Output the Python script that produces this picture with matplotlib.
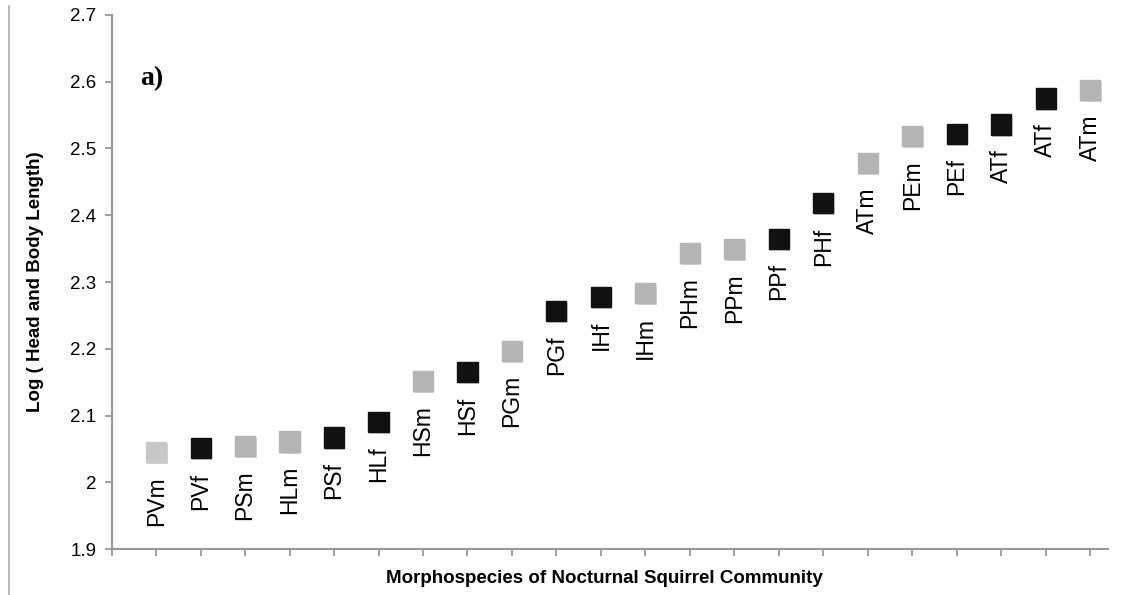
import matplotlib
matplotlib.use("Agg")
import matplotlib.pyplot as plt
import matplotlib.patheffects as pe
from matplotlib.lines import Line2D

# Données
labels = ["PVm", "PVf", "PSm", "HLm", "PSf", "HLf", "HSm", "HSf", "PGm", "PGf",
          "IHf", "IHm", "PHm", "PPm", "PPf", "PHf", "ATm", "PEm", "PEf", "ATf",
          "ATf", "ATm"]
values = [2.045, 2.051, 2.054, 2.061, 2.067, 2.090, 2.152, 2.165, 2.197, 2.257,
          2.278, 2.284, 2.343, 2.349, 2.365, 2.418, 2.478, 2.519, 2.522, 2.536,
          2.575, 2.588]
yticks = [1.9, 2, 2.1, 2.2, 2.3, 2.4, 2.5, 2.6, 2.7]

sex_colors = {"m": "#b4b4b4", "f": "#111111"}

plt.rcParams['font.family'] = ['Liberation Sans', 'DejaVu Sans']

fig = plt.figure(figsize=(11.29, 5.95), dpi=100)
ax = fig.add_axes([0.0989, 0.0773, 0.8824, 0.8975])

x = list(range(1, len(values) + 1))
shadow = [pe.SimplePatchShadow(offset=(1, -1.5), shadow_rgbFace="#888888", alpha=0.35),
          pe.Normal()]
for xi, v, lab in zip(x, values, labels):
    c = sex_colors[lab[-1]]
    if xi == 1:
        c = "#c8c8c8"
    ax.plot([xi], [v], marker="s", markersize=14.5, color=c, linestyle="none",
            path_effects=shadow, zorder=3)
    ax.annotate(lab, (xi, v), xytext=(0, -17.5), textcoords="offset points",
                rotation=90, ha="center", va="top", fontsize=16.5, color="black")

ax.set_xlim(0, 22.4)
ax.set_ylim(1.9, 2.7)
ax.set_xticks(range(0, 23))
ax.set_xticklabels([])
ax.set_yticks(yticks)
ax.set_yticklabels([f"{t:g}" for t in yticks], fontsize=13.5)

for s in ["top", "right"]:
    ax.spines[s].set_visible(False)
for s in ["left", "bottom"]:
    ax.spines[s].set_color("#999999")
    ax.spines[s].set_linewidth(1.5)
ax.tick_params(axis="both", direction="out", length=5, width=1.3, color="#999999")
ax.tick_params(axis="y", pad=6)

ax.set_ylabel("Log ( Head and Body Length)", fontsize=13.5, fontweight="bold")
ax.yaxis.set_label_coords(-0.068, 0.5)
ax.set_xlabel("Morphospecies of Nocturnal Squirrel Community", fontsize=13.5,
              fontweight="bold")
ax.xaxis.set_label_coords(0.495, -0.04)

ax.text(0.65, 2.605, "a)", fontsize=20, fontweight="bold", family="Liberation Serif",
        va="center", ha="left")

# trait vertical à gauche (bordure)
fig.add_artist(Line2D([9 / 1129, 9 / 1129], [0, 0.99], color="#aaaaaa", linewidth=1.2))

fig.savefig("out.png", dpi=100)
